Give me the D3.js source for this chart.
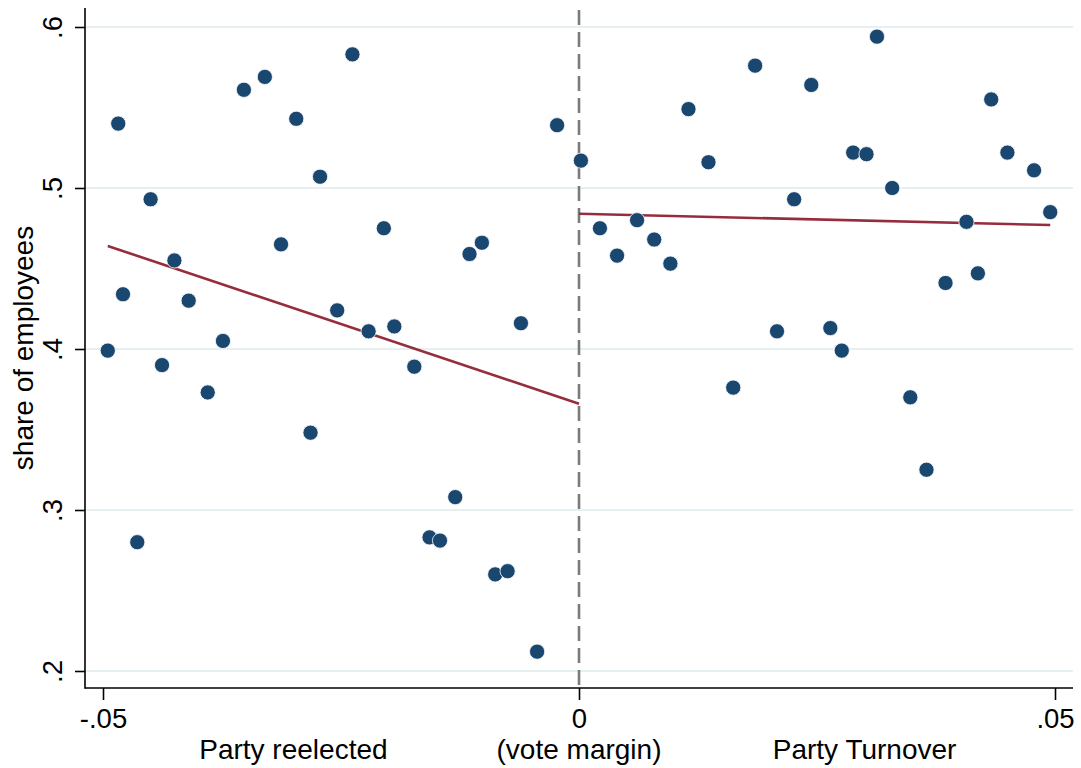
<!DOCTYPE html>
<html>
<head>
<meta charset="utf-8">
<script src="https://cdn.jsdelivr.net/npm/d3@7"></script>
<style>
  html, body { margin: 0; padding: 0; background: #ffffff; }
  svg { display: block; font-family: "Liberation Sans", Arial, Helvetica, sans-serif; }
</style>
</head>
<body>
<svg id="chart" width="1081" height="768"></svg>
<script>
// ---- data ----
const leftX = [-0.0495, -0.0484, -0.0479, -0.0464, -0.0450, -0.0438, -0.0425, -0.0410, -0.0390, -0.0374,
               -0.0352, -0.0330, -0.0313, -0.0297, -0.0282, -0.0272, -0.0254, -0.0238, -0.0221, -0.0205,
               -0.0194, -0.0173, -0.0157, -0.0146, -0.0130, -0.0115, -0.0102, -0.0088, -0.0075, -0.0061,
               -0.0044, -0.0023];
const leftY = [0.399, 0.540, 0.434, 0.280, 0.493, 0.390, 0.455, 0.430, 0.373, 0.405,
               0.561, 0.569, 0.465, 0.543, 0.348, 0.507, 0.424, 0.583, 0.411, 0.475,
               0.414, 0.389, 0.283, 0.281, 0.308, 0.459, 0.466, 0.260, 0.262, 0.416,
               0.212, 0.539];
const rightX = [0.0002, 0.0022, 0.0040, 0.0061, 0.0079, 0.0096, 0.0115, 0.0136, 0.0162, 0.0185,
                0.0208, 0.0226, 0.0244, 0.0264, 0.0276, 0.0288, 0.0302, 0.0313, 0.0329, 0.0348,
                0.0365, 0.0385, 0.0407, 0.0419, 0.0433, 0.0450, 0.0478, 0.0495];
const rightY = [0.517, 0.475, 0.458, 0.480, 0.468, 0.453, 0.549, 0.516, 0.376, 0.576,
                0.411, 0.493, 0.564, 0.413, 0.399, 0.522, 0.521, 0.594, 0.500, 0.370,
                0.325, 0.441, 0.479, 0.447, 0.555, 0.522, 0.511, 0.485];
// fitted lines (endpoints)
const fitLeftX = [-0.0495, 0];
const fitLeftY = [0.464, 0.366];
const fitRightX = [0, 0.0495];
const fitRightY = [0.484, 0.477];
const xTicks = [-0.05, 0, 0.05];
const xTickLabels = ["-.05", "0", ".05"];
const yTicks = [0.2, 0.3, 0.4, 0.5, 0.6];
const yTickLabels = [".2", ".3", ".4", ".5", ".6"];
const xTitles = ["Party reelected", "(vote margin)", "Party Turnover"];
const xTitlePos = [-0.03, 0, 0.03];
const yTitle = "share of employees";

// ---- layout ----
const svg = d3.select("#chart");
const plot = { left: 85, right: 1073, top: 8, bottom: 688 };
const x = d3.scaleLinear().domain([-0.05, 0.05]).range([103, 1055]);
const y = d3.scaleLinear().domain([0.2, 0.6]).range([671, 27]);

const dotColor = "#1a476f";
const fitColor = "#962d3e";

// gridlines
svg.append("g").selectAll("line").data(yTicks).join("line")
  .attr("x1", plot.left).attr("x2", plot.right)
  .attr("y1", d => y(d)).attr("y2", d => y(d))
  .attr("stroke", "#e6eff1").attr("stroke-width", 1.8);

// dashed cutoff line
svg.append("line")
  .attr("x1", x(0)).attr("x2", x(0))
  .attr("y1", 10).attr("y2", plot.bottom)
  .attr("stroke", "#7a7a7a").attr("stroke-width", 2.6)
  .attr("stroke-dasharray", "15,7");

// fitted lines
const line = d3.line().x(d => x(d[0])).y(d => y(d[1]));
[[fitLeftX, fitLeftY], [fitRightX, fitRightY]].forEach(([xs, ys]) => {
  svg.append("path")
    .datum(xs.map((v, i) => [v, ys[i]]))
    .attr("d", line)
    .attr("fill", "none")
    .attr("stroke", fitColor)
    .attr("stroke-width", 2.6);
});

// dots
const pts = leftX.map((v, i) => [v, leftY[i]]).concat(rightX.map((v, i) => [v, rightY[i]]));
svg.append("g").selectAll("circle").data(pts).join("circle")
  .attr("cx", d => x(d[0])).attr("cy", d => y(d[1]))
  .attr("r", 7.6)
  .attr("fill", dotColor)
  .attr("stroke", "#ffffff").attr("stroke-width", 0.8);

// axes
const xAxis = d3.axisBottom(x).tickValues(xTicks)
  .tickFormat((d, i) => xTickLabels[i]).tickSize(12).tickSizeOuter(0).tickPadding(6);
const gx = svg.append("g").attr("transform", `translate(0,${plot.bottom})`).call(xAxis);
gx.select(".domain").remove();
gx.selectAll(".tick line").attr("stroke", "#000").attr("stroke-width", 1.6);
gx.selectAll(".tick text").attr("font-size", 27.5).attr("fill", "#000")
  .attr("font-family", "'Liberation Sans', Arial, sans-serif")
  .attr("dy", null).attr("y", 40);

const yAxis = d3.axisLeft(y).tickValues(yTicks)
  .tickFormat((d, i) => yTickLabels[i]).tickSize(10).tickSizeOuter(0);
const gy = svg.append("g").attr("transform", `translate(${plot.left},0)`).call(yAxis);
gy.select(".domain").remove();
gy.selectAll(".tick line").attr("stroke", "#000").attr("stroke-width", 1.6);
gy.selectAll(".tick text")
  .attr("font-size", 27.5).attr("fill", "#000")
  .attr("font-family", "'Liberation Sans', Arial, sans-serif")
  .attr("x", null).attr("dy", null)
  .attr("text-anchor", "middle")
  .attr("transform", "translate(-23,0) rotate(-90)");

// axis lines (frame)
svg.append("line").attr("x1", plot.left).attr("x2", plot.left)
  .attr("y1", plot.top).attr("y2", plot.bottom + 0.8)
  .attr("stroke", "#000").attr("stroke-width", 1.6);
svg.append("line").attr("x1", plot.left).attr("x2", plot.right)
  .attr("y1", plot.bottom).attr("y2", plot.bottom)
  .attr("stroke", "#000").attr("stroke-width", 1.6);

// x titles
svg.append("g").selectAll("text").data(xTitles).join("text")
  .attr("x", (d, i) => x(xTitlePos[i])).attr("y", 759)
  .attr("text-anchor", "middle").attr("font-size", 28).attr("fill", "#000")
  .text(d => d);

// y title
svg.append("text")
  .attr("transform", `translate(33,${(plot.top + plot.bottom) / 2}) rotate(-90)`)
  .attr("text-anchor", "middle").attr("font-size", 28).attr("fill", "#000")
  .text(yTitle);
</script>
</body>
</html>
